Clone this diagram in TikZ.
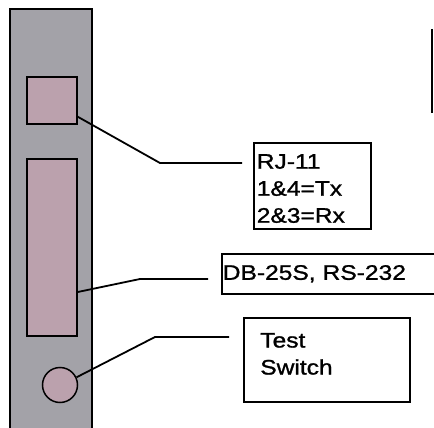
\documentclass[tikz,border=0pt]{standalone}
\usepackage{fontspec}
\setmainfont{Liberation Sans}[FakeStretch=1.17,FakeBold=1.2]
\usepackage{tikz}
\usetikzlibrary{positioning,calc}
\definecolor{PanelGray}{RGB}{163,162,168}
\definecolor{PartPink}{RGB}{187,161,173}
\begin{document}
\begin{tikzpicture}[x=1pt,y=-1pt,every node/.style={font=\fontsize{21}{27}\selectfont}]
\tikzset{part/.style={draw,line width=1.5pt,fill=PartPink,inner sep=0pt},tag/.style={draw,line width=1.6pt,align=left,inner ysep=0pt,anchor=north west},lead/.style={line width=1.8pt}}
\useasboundingbox (0,0) rectangle (434,428);
\draw[line width=1.2pt,fill=PanelGray] (10,9) rectangle (92,440);
\node[part,minimum width=50pt,minimum height=47pt] (rj) at (52,100.5) {};
\node[part,minimum width=50pt,minimum height=177pt] (db) at (52,247.5) {};
\node[part,circle,minimum size=35pt] (sw) at (60,385) {};
\node[tag,text width=111pt,inner xsep=3pt,minimum height=86pt] (rjlbl) at (253,142) {\rule{0pt}{20pt}RJ-11\\1\&4=Tx\\2\&3=Rx};
\node[tag,text width=218pt,inner xsep=1pt,minimum height=40pt] (dblbl) at (221,253) {DB-25S, RS-232};
\node[tag,text width=133pt,inner xsep=16.5pt,minimum height=84pt] (swlbl) at (243,317) {Test\\Switch\rule[-12pt]{0pt}{12pt}};
\coordinate (rjbend) at (160,163);
\coordinate (dbbend) at (140,279);
\coordinate (swbend) at (155,337);
\draw[lead,shorten >=11pt] ([yshift=8pt]rj.south east) -- (rjbend) -- (rjbend -| rjlbl.west);
\draw[lead,shorten >=13pt] ([yshift=-44.5pt]db.east) -- (dbbend) -- (dbbend -| dblbl.west);
\draw[lead,shorten >=14pt] (sw.25) -- (swbend) -- (swbend -| swlbl.west);
\draw[line width=1.8pt] (432,29) -- (432,113);
\end{tikzpicture}
\end{document}
